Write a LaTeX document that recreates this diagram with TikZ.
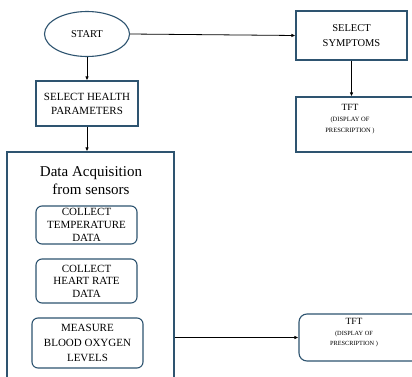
\documentclass[tikz,border=0pt]{standalone}
\usepackage{fontspec}
\setmainfont{Liberation Serif}
\usetikzlibrary{shapes.geometric,arrows.meta}
\definecolor{edge}{RGB}{46,84,112}
\tikzset{
  box/.style={draw=edge, line width=1.1pt, align=center, inner sep=0pt},
  rbox/.style={box, rounded corners=6pt},
  lbl/.style={align=center, inner sep=0pt},
  tfttext/.style={lbl, anchor=north},
  arr/.style={-{Latex[length=4pt,width=3.5pt]}, line width=0.8pt, black},
}
\begin{document}
\begin{tikzpicture}[x=1pt,y=-1pt]
\useasboundingbox (0,0) rectangle (412,377);
\clip (0,0) rectangle (412,377);
\fill[white] (0,0) rectangle (412,377);
\node[box, ellipse, minimum width=85pt, minimum height=45pt, font=\fontsize{10.5}{12}\selectfont] (start) at (87,34) {START};
\node[box, minimum width=102pt, minimum height=45pt, font=\fontsize{11}{14}\selectfont] (health) at (87,103.5) {SELECT HEALTH\\PARAMETERS};
\node[box, minimum width=167pt, minimum height=250pt] (daq) at (90.5,277) {};
\node[lbl, font=\fontsize{15}{18}\selectfont] (daqt) at (91,181) {Data Acquisition\\from sensors};
\node[rbox, minimum width=101pt, minimum height=38pt, font=\fontsize{11}{13}\selectfont] (c1) at (86.5,225) {COLLECT\\TEMPERATURE\\DATA};
\node[rbox, minimum width=101pt, minimum height=44pt, font=\fontsize{11}{12.5}\selectfont] (c2) at (86.5,281) {COLLECT\\HEART RATE\\DATA};
\node[rbox, minimum width=111pt, minimum height=50pt, font=\fontsize{11}{15}\selectfont] (c3) at (87.5,343) {MEASURE\\BLOOD OXYGEN\\LEVELS};
\node[box, minimum width=111pt, minimum height=49pt, font=\fontsize{10.5}{15}\selectfont] (sym) at (351.5,35.5) {SELECT\\SYMPTOMS};
\node[box, minimum width=124pt, minimum height=55pt] (tft1) at (358,124.5) {};
\node[tfttext, font=\fontsize{6.5}{11}\selectfont] (tft1t) at (350,104) {{\fontsize{9.5}{11}\selectfont TFT}\\(DISPLAY OF\\PRESCRIPTION )};
\node[rbox, rounded corners=8pt, minimum width=124pt, minimum height=47pt] (tft2) at (361,337.5) {};
\node[tfttext, font=\fontsize{6.3}{10.5}\selectfont] (tft2t) at (354,318.5) {{\fontsize{9.5}{10.5}\selectfont TFT}\\(DISPLAY OF\\PRESCRIPTION )};
\draw[arr] (start.south) -- (health.north);
\draw[arr] (health.south) -- (health.south |- daq.north);
\draw[arr] (start.east) -- (sym.west);
\draw[arr] (sym.south) -- (sym.south |- tft1.north);
\draw[arr] (tft2.west -| daq.east) -- (tft2.west);
\end{tikzpicture}
\end{document}
